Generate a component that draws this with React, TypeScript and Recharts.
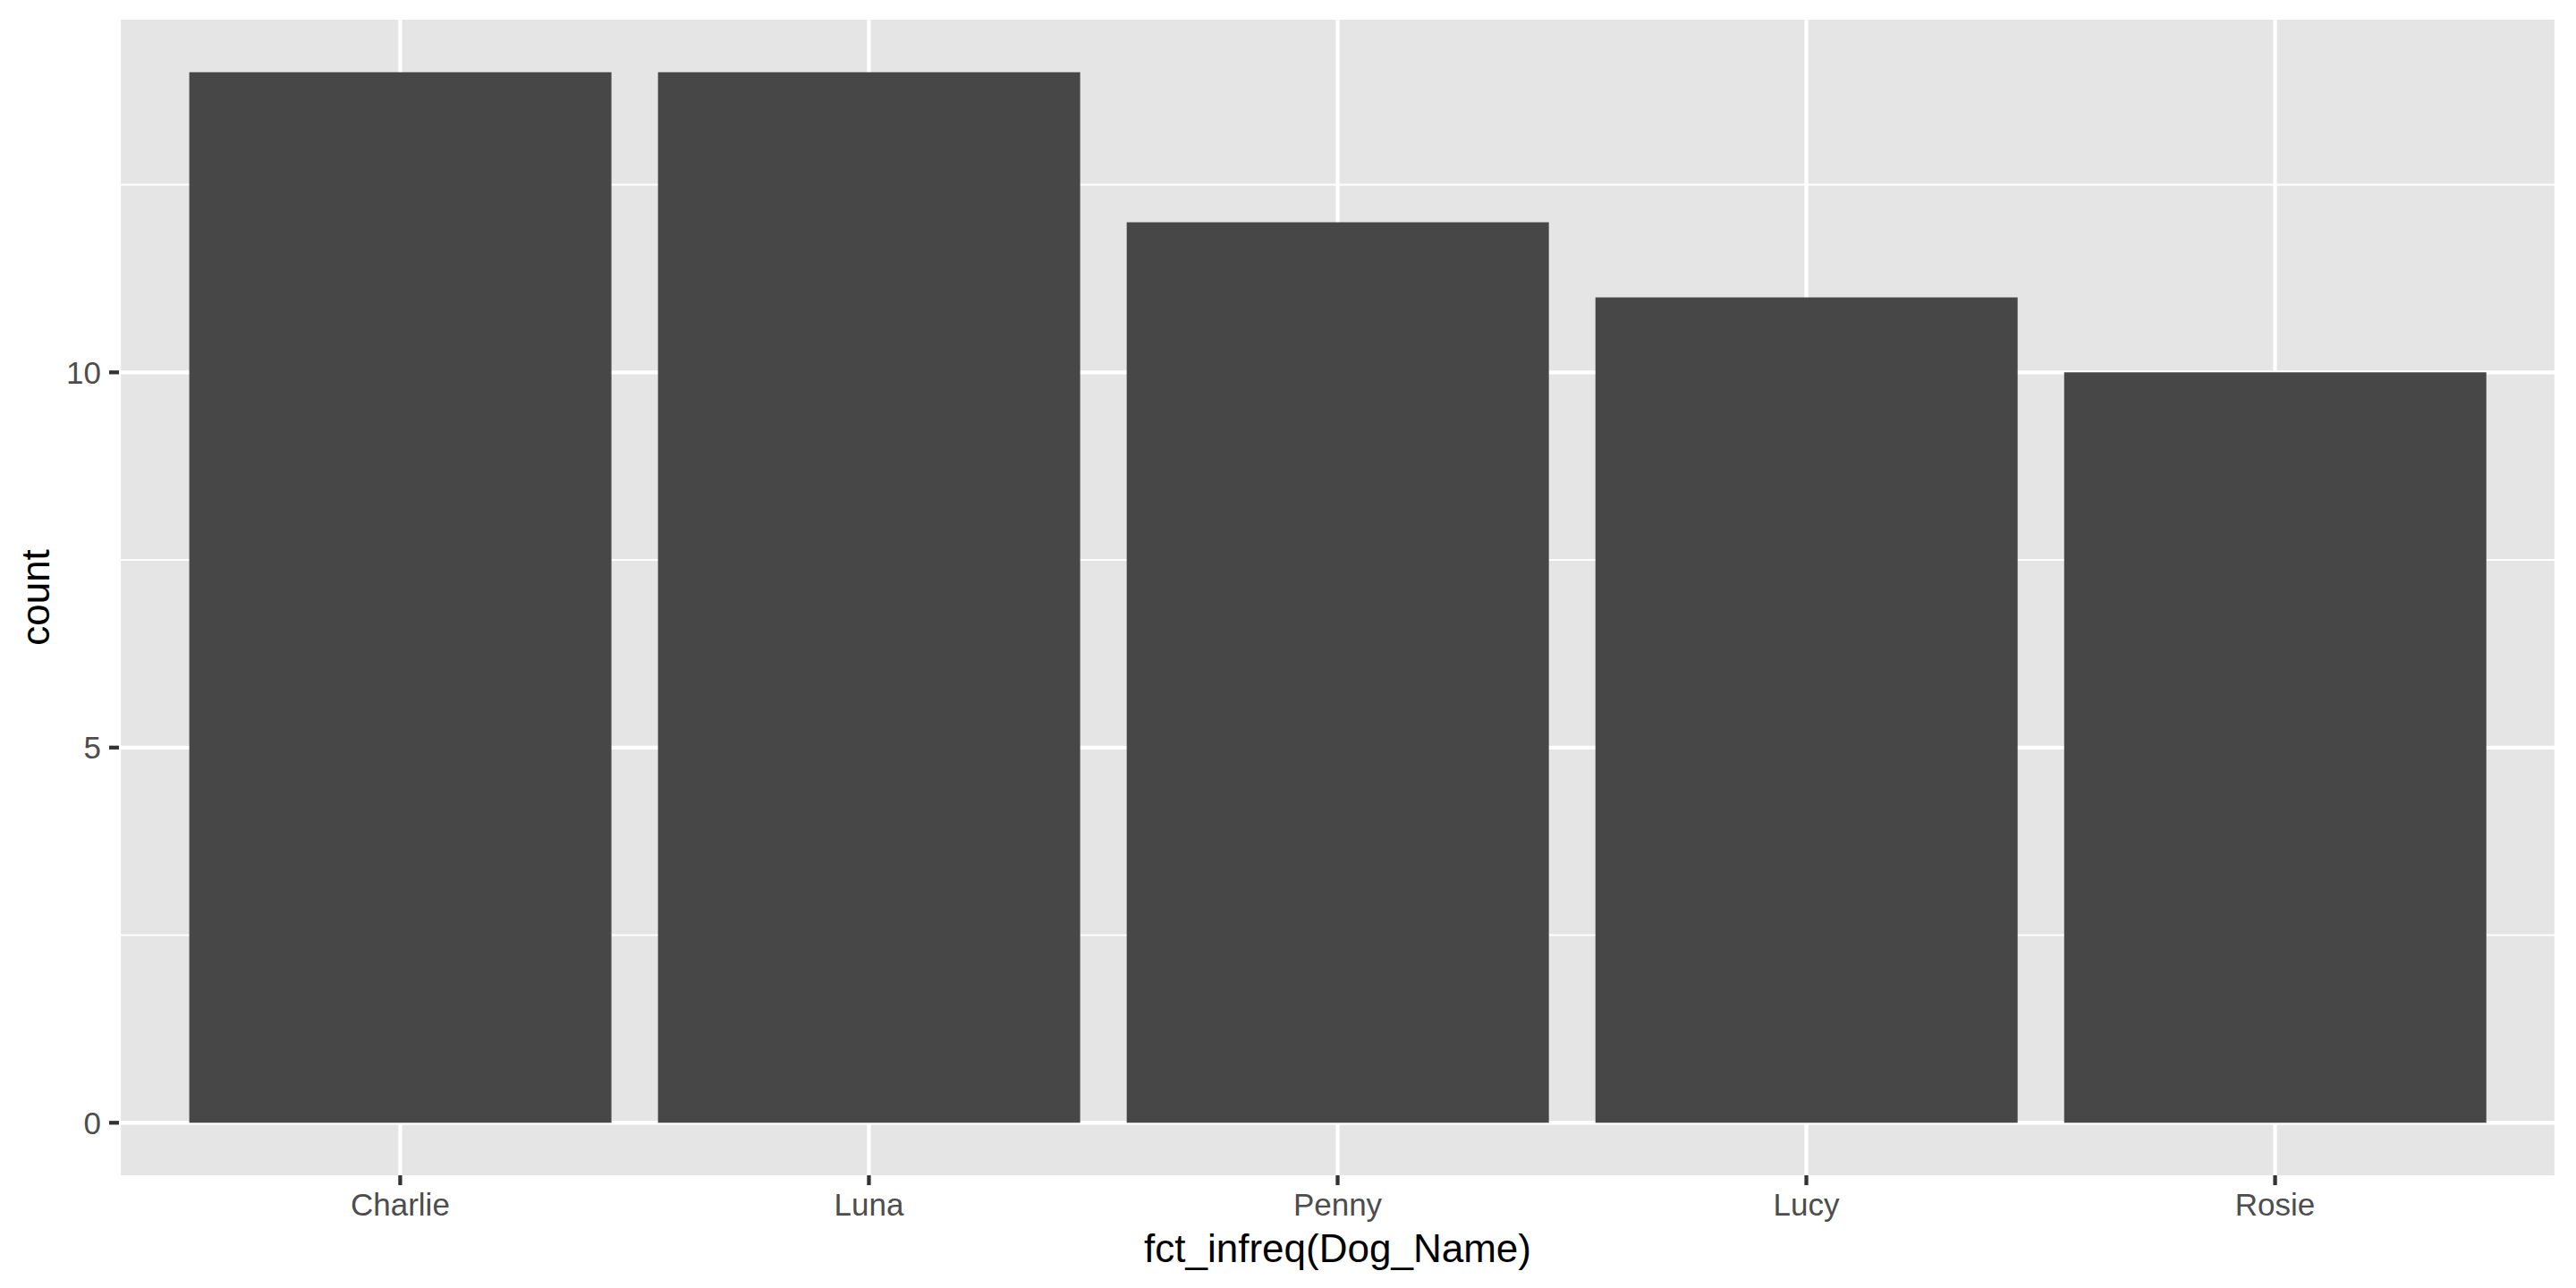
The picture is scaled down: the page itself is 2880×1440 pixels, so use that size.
import React from "react";
import { BarChart, Bar, XAxis, YAxis, CartesianGrid } from "recharts";

const categories = ["Charlie", "Luna", "Penny", "Lucy", "Rosie"];
const counts = [14, 14, 12, 11, 10];
const yTicks = [0, 5, 10];
const yMinorTicks = [2.5, 7.5, 12.5];
const yDomain = [-0.7, 14.7];

const data = categories.map((name, i) => ({ name, count: counts[i] }));

const FONT = "'Liberation Sans', Arial, Helvetica, sans-serif";

export default function App() {
  return (
    <div style={{ position: "absolute", left: 0, top: 0, width: 2880, height: 1440, background: "#ffffff", fontFamily: FONT }}>
      <BarChart
        width={2880}
        height={1440}
        data={data}
        margin={{ top: 22, right: 22, bottom: 0, left: 33 }}
        barCategoryGap="5%"
      >
        <CartesianGrid
          fill="#E5E5E5"
          stroke="#FFFFFF"
          strokeWidth={4.3}
          horizontalValues={yTicks}
        />
        <CartesianGrid
          stroke="#FFFFFF"
          strokeWidth={2.1}
          vertical={false}
          horizontalValues={yMinorTicks}
        />
        <XAxis
          dataKey="name"
          type="category"
          padding={{ left: 52.4, right: 52.4 }}
          height={126}
          axisLine={false}
          tickSize={11}
          tickMargin={9}
          tickLine={{ stroke: "#333333", strokeWidth: 4.3 }}
          tick={{ fill: "#4D4D4D", fontSize: 35, fontFamily: FONT }}
          interval={0}
          label={{ value: "fct_infreq(Dog_Name)", position: "insideBottom", offset: 29, fill: "#000000", fontSize: 44, fontFamily: FONT }}
        />
        <YAxis
          type="number"
          domain={yDomain}
          ticks={yTicks}
          allowDataOverflow
          width={100}
          axisLine={false}
          tickSize={11}
          tickMargin={9}
          tickLine={{ stroke: "#333333", strokeWidth: 4.3 }}
          tick={{ fill: "#4D4D4D", fontSize: 35, fontFamily: FONT }}
          label={{ value: "count", angle: -90, position: "center", dx: -44, fill: "#000000", fontSize: 44, fontFamily: FONT }}
        />
        <Bar dataKey="count" fill="#474747" isAnimationActive={false} />
      </BarChart>
    </div>
  );
}
